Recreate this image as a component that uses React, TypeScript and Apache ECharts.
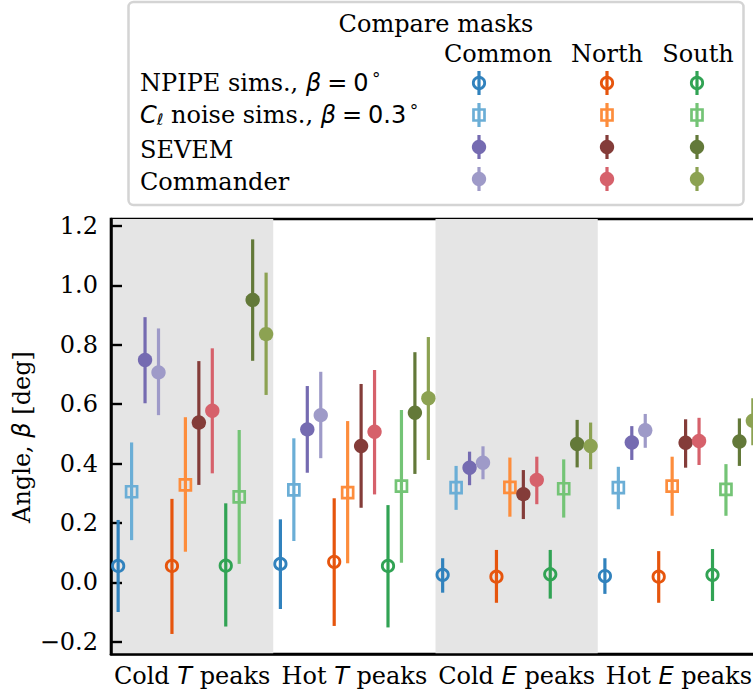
import React, { useEffect, useRef } from "react";
import * as echarts from "echarts";

// Peak categories along the x axis
const categories = ["Cold T peaks", "Hot T peaks", "Cold E peaks", "Hot E peaks"];
const masks = ["Common", "North", "South"];
const methods = ["npipe", "cl", "sevem", "commander"];

// Each entry: [angle, lower end of error bar, upper end of error bar] per category
const npipeCommon = [[0.055, -0.10, 0.21], [0.062, -0.090, 0.212], [0.025, -0.035, 0.081], [0.021, -0.039, 0.081]];
const npipeNorth = [[0.055, -0.174, 0.281], [0.069, -0.147, 0.283], [0.019, -0.069, 0.109], [0.019, -0.069, 0.105]];
const npipeSouth = [[0.056, -0.149, 0.266], [0.055, -0.152, 0.260], [0.027, -0.055, 0.109], [0.025, -0.063, 0.112]];

const clCommon = [[0.305, 0.142, 0.471], [0.311, 0.139, 0.485], [0.319, 0.244, 0.392], [0.319, 0.246, 0.389]];
const clNorth = [[0.328, 0.103, 0.556], [0.302, 0.064, 0.543], [0.320, 0.221, 0.420], [0.324, 0.224, 0.423]];
const clSouth = [[0.288, 0.062, 0.513], [0.324, 0.066, 0.580], [0.315, 0.218, 0.414], [0.313, 0.224, 0.398]];

const sevemCommon = [[0.749, 0.603, 0.893], [0.515, 0.369, 0.661], [0.386, 0.327, 0.440], [0.471, 0.412, 0.526]];
const sevemNorth = [[0.538, 0.328, 0.745], [0.459, 0.251, 0.668], [0.297, 0.213, 0.378], [0.470, 0.386, 0.549]];
const sevemSouth = [[0.951, 0.746, 1.155], [0.571, 0.365, 0.775], [0.466, 0.387, 0.547], [0.474, 0.392, 0.552]];

const commanderCommon = [[0.707, 0.563, 0.855], [0.563, 0.418, 0.709], [0.403, 0.347, 0.458], [0.512, 0.453, 0.567]];
const commanderNorth = [[0.578, 0.367, 0.788], [0.507, 0.296, 0.715], [0.345, 0.263, 0.423], [0.476, 0.395, 0.554]];
const commanderSouth = [[0.836, 0.631, 1.043], [0.620, 0.412, 0.826], [0.459, 0.381, 0.538], [0.544, 0.462, 0.620]];

const seriesData: Record<string, number[][][]> = {
  npipe: [npipeCommon, npipeNorth, npipeSouth],
  cl: [clCommon, clNorth, clSouth],
  sevem: [sevemCommon, sevemNorth, sevemSouth],
  commander: [commanderCommon, commanderNorth, commanderSouth],
};

const colors: Record<string, string[]> = {
  npipe: ["#3182bd", "#e6550d", "#31a354"],
  cl: ["#6baed6", "#fd8d3c", "#74c476"],
  sevem: ["#756bb1", "#843c39", "#637939"],
  commander: ["#9e9ac8", "#d6616b", "#8ca252"],
};

const yTicksFmt = (v: number) => (v < 0 ? "\u2212" : "") + Math.abs(v).toFixed(1);

const SERIF = "DejaVu Serif";
const SANS = "DejaVu Sans";
const FS = 24;

// marker + error bar shapes shared by plot and legend
function markerShapes(method: string, color: string, x: number, y: number, y1: number, y2: number) {
  const items: any[] = [
    {
      type: "line",
      shape: { x1: x, y1, x2: x, y2 },
      style: { stroke: color, lineWidth: 3.2 },
    },
  ];
  if (method === "npipe") {
    items.push({ type: "circle", shape: { cx: x, cy: y, r: 5.7 }, style: { fill: "none", stroke: color, lineWidth: 2.8 } });
  } else if (method === "cl") {
    items.push({ type: "rect", shape: { x: x - 5.5, y: y - 5.5, width: 11, height: 11 }, style: { fill: "none", stroke: color, lineWidth: 2.7 } });
  } else {
    items.push({ type: "circle", shape: { cx: x, cy: y, r: 7.2 }, style: { fill: color } });
  }
  return items;
}

const SPREAD = 0.0829; // horizontal step between neighbouring points, in category widths

export default function App() {
  const ref = useRef<HTMLDivElement>(null);

  useEffect(() => {
    if (!ref.current) return;
    const chart = echarts.init(ref.current, null, { renderer: "svg" });

    const series: any[] = [];
    masks.forEach((mask, mi) => {
      methods.forEach((method, ki) => {
        const idx = mi * 4 + ki;
        const offset = (idx - 5.5) * SPREAD;
        const color = colors[method][mi];
        series.push({
          type: "custom",
          name: `${method}-${mask}`,
          data: seriesData[method][mi].map((d, ci) => [ci, d[0], d[1], d[2]]),
          encode: { x: 0, y: 1 },
          renderItem: (params: any, api: any) => {
            const cat = api.value(0);
            const c = api.coord([cat, api.value(1)]);
            const lo = api.coord([cat, api.value(2)]);
            const hi = api.coord([cat, api.value(3)]);
            const band = api.size([1, 0])[0];
            const x = c[0] + offset * band;
            return { type: "group", children: markerShapes(method, color, x, c[1], lo[1], hi[1]) };
          },
        });
      });
    });

    // legend table
    const legendX = [479, 607, 697];
    const headerX = [498, 607, 698];
    const rowTextY = [83, 115, 150, 182];
    const rowMarkY = [83, 115, 147, 179];
    const eq = "\u2005=\u2005";
    const rowLabels = [
      `{s|NPIPE sims., }{i|β}{m|${eq}0}{sup|\u2009°}`,
      `{i|C}{sub|ℓ}{s| noise sims., }{i|β}{m|${eq}0.3}{sup|\u2009°}`,
      `{s|SEVEM}`,
      `{s|Commander}`,
    ];
    const rich = {
      s: { fontFamily: SERIF, fontSize: FS, fill: "#000" },
      i: { fontFamily: SANS, fontStyle: "italic", fontSize: FS, fill: "#000" },
      m: { fontFamily: SANS, fontSize: FS, fill: "#000" },
      sup: { fontFamily: SANS, fontSize: 17, fill: "#000", verticalAlign: "top", padding: [0, 0, 8, 0] },
      sub: { fontFamily: SANS, fontStyle: "italic", fontSize: 16, fill: "#000", verticalAlign: "bottom", padding: [8, 0, 0, 0] },
    };
    const axisRich = {
      s: { fontFamily: SERIF, fontSize: FS, color: "#000" },
      i: { fontFamily: SANS, fontStyle: "italic", fontSize: FS, color: "#000" },
    };

    const graphics: any[] = [
      {
        type: "rect",
        shape: { x: 128.5, y: 2, width: 615, height: 203, r: 5 },
        style: { fill: "#fff", stroke: "#d4d4d4", lineWidth: 2.5 },
      },
      {
        type: "text",
        x: 436,
        y: 24,
        style: { text: "Compare masks", fontFamily: SERIF, fontSize: FS, fill: "#000", align: "center", verticalAlign: "middle" },
      },
      ...masks.map((m, i) => ({
        type: "text",
        x: headerX[i],
        y: 54,
        style: { text: m, fontFamily: SERIF, fontSize: FS, fill: "#000", align: "center", verticalAlign: "middle" },
      })),
      ...rowLabels.map((t, r) => ({
        type: "text",
        x: 140,
        y: rowTextY[r],
        style: { text: t, rich, align: "left", verticalAlign: "middle" },
      })),
    ];
    methods.forEach((method, r) => {
      masks.forEach((_, mi) => {
        const y = rowMarkY[r];
        graphics.push({
          type: "group",
          children: markerShapes(method, colors[method][mi], legendX[mi], y, y - 12, y + 12),
        });
      });
    });
    graphics.push({
      type: "text",
      x: 22,
      y: 437,
      rotation: Math.PI / 2,
      style: {
        text: "{s|Angle, }{i|β}{s| [deg]}",
        rich: { s: rich.s, i: rich.i },
        align: "center",
        verticalAlign: "middle",
      },
    });

    chart.setOption({
      animation: false,
      backgroundColor: "#fff",
      grid: {
        left: 111,
        top: 219,
        width: 649,
        height: 435,
        show: true,
        borderColor: "#000",
        borderWidth: 2.6,
        backgroundColor: "transparent",
      },
      xAxis: {
        type: "category",
        data: categories,
        boundaryGap: true,
        axisLine: { onZero: false, lineStyle: { color: "#000", width: 2.6 } },
        axisTick: { alignWithLabel: true, inside: true, length: 11, lineStyle: { color: "#000", width: 2.4 } },
        axisLabel: {
          interval: 0,
          margin: 10,
          formatter: (v: string) => {
            const [a, b, c] = v.split(" ");
            return `{s|${a} }{i|${b}}{s| ${c}}`;
          },
          rich: axisRich,
        },
        splitLine: { show: false },
        splitArea: { show: true, areaStyle: { color: ["#e5e5e5", "rgba(255,255,255,0)"] } },
      },
      yAxis: {
        type: "value",
        min: -0.2415,
        max: 1.2236,
        splitNumber: 7,
        minInterval: 0.2,
        maxInterval: 0.2,
        axisLine: { show: true, lineStyle: { color: "#000", width: 2.6 } },
        axisTick: { show: true, inside: true, length: 11, lineStyle: { color: "#000", width: 2.4 } },
        axisLabel: {
          margin: 13,
          fontFamily: SERIF,
          fontSize: FS,
          color: "#000",
          showMinLabel: false,
          showMaxLabel: false,
          formatter: yTicksFmt,
        },
        splitLine: { show: false },
      },
      series,
      graphic: graphics,
    });

    return () => chart.dispose();
  }, []);

  return (
    <div style={{ position: "absolute", left: 0, top: 0, width: 753, height: 691, overflow: "hidden" }}>
      <div ref={ref} style={{ width: 772, height: 691 }} />
    </div>
  );
}
